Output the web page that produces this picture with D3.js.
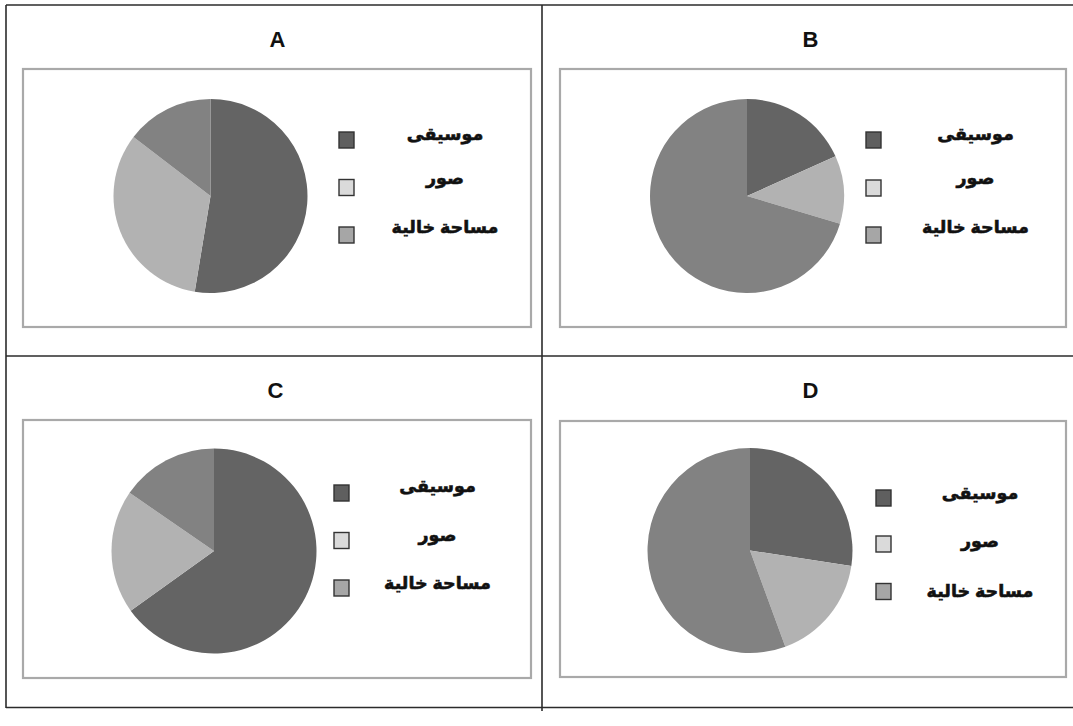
<!DOCTYPE html>
<html>
<head>
<meta charset="utf-8">
<script src="https://cdn.jsdelivr.net/npm/d3@7"></script>
<style>
  html, body { margin: 0; padding: 0; background: #ffffff; }
  svg { display: block; }
</style>
</head>
<body>
<svg id="chart" width="1073" height="726"></svg>
<script>
// Storage usage shown in four pie charts
const panelNames = ["A", "B", "C", "D"];
const categories = ["موسيقى", "صور", "مساحة خالية"];
const valuesA = [52.6, 32.8, 14.6];
const valuesB = [18.3, 11.3, 70.4];
const valuesC = [65.1, 19.5, 15.4];
const valuesD = [27.4, 17.0, 55.6];
const sliceColors = ["#646464", "#b2b2b2", "#828282"];
const swatchColors = ["#5f5f5f", "#dadada", "#a6a6a6"];

const seriesByPanel = [valuesA, valuesB, valuesC, valuesD];

// Layout of each cell: frame box, pie centre/radius, legend placement
const layout = [
  { box: [23, 69, 508, 258], pie: [187.5, 127, 97], swX: 316, swY: [71, 118.5, 166], txtX: 422, txtDy: [0, -4, -2], title: [277.5, 47] },
  { box: [560, 69, 506, 258], pie: [187, 127, 97], swX: 306, swY: [71, 119, 166], txtX: 415.5, txtDy: [0, -4, -2], title: [810.5, 47] },
  { box: [23, 420, 508, 258], pie: [191, 131, 102.5], swX: 311, swY: [73, 120.5, 168], txtX: 414.5, txtDy: [-1, 0, 1], title: [275.5, 398] },
  { box: [560, 421, 506, 256], pie: [190, 129.5, 102.5], swX: 316, swY: [77, 123, 170.5], txtX: 420, txtDy: [1, 3, 5], title: [810.5, 398] }
];

const svg = d3.select("#chart");

// outer grid lines
const grid = svg.append("g").attr("stroke", "#2b2b2b").attr("stroke-width", 1.6);
grid.append("line").attr("x1", 6).attr("y1", 5).attr("x2", 1073).attr("y2", 5);
grid.append("line").attr("x1", 6).attr("y1", 356).attr("x2", 1073).attr("y2", 356);
grid.append("line").attr("x1", 6).attr("y1", 707.5).attr("x2", 1073).attr("y2", 707.5);
grid.append("line").attr("x1", 6).attr("y1", 5).attr("x2", 6).attr("y2", 708);
grid.append("line").attr("x1", 542).attr("y1", 5).attr("x2", 542).attr("y2", 711);

const pie = d3.pie().sort(null).value(d => d);

panelNames.forEach((name, i) => {
  const L = layout[i];
  const [bx, by, bw, bh] = L.box;

  svg.append("text")
    .attr("x", L.title[0]).attr("y", L.title[1])
    .attr("text-anchor", "middle")
    .attr("font-family", "'Liberation Sans', Arial, sans-serif")
    .attr("font-weight", "bold")
    .attr("font-size", 22)
    .attr("fill", "#111")
    .text(name);

  const g = svg.append("g").attr("transform", `translate(${bx},${by})`);
  g.append("rect")
    .attr("x", 0).attr("y", 0).attr("width", bw).attr("height", bh)
    .attr("fill", "#ffffff")
    .attr("stroke", "#a9a9a9").attr("stroke-width", 2.2);

  const [cx, cy, r] = L.pie;
  const arc = d3.arc().innerRadius(0).outerRadius(r);
  g.append("g").attr("transform", `translate(${cx},${cy})`)
    .selectAll("path")
    .data(pie(seriesByPanel[i]))
    .join("path")
    .attr("d", arc)
    .attr("fill", (d, k) => sliceColors[k]);

  const leg = g.append("g");
  categories.forEach((cat, k) => {
    leg.append("rect")
      .attr("x", L.swX).attr("y", L.swY[k] - 8)
      .attr("width", 15).attr("height", 16)
      .attr("fill", swatchColors[k])
      .attr("stroke", "#333").attr("stroke-width", 1.4);
    leg.append("text")
      .attr("x", L.txtX).attr("y", L.swY[k] + L.txtDy[k])
      .attr("text-anchor", "middle")
      .attr("direction", "rtl")
      .attr("font-family", "Arial, 'Liberation Sans', 'DejaVu Sans', sans-serif")
      .attr("font-weight", "bold")
      .attr("font-size", 17.5)
      .attr("fill", "#111")
      .attr("stroke", "#111").attr("stroke-width", 0.6)
      .text(cat);
  });
});
</script>
</body>
</html>
